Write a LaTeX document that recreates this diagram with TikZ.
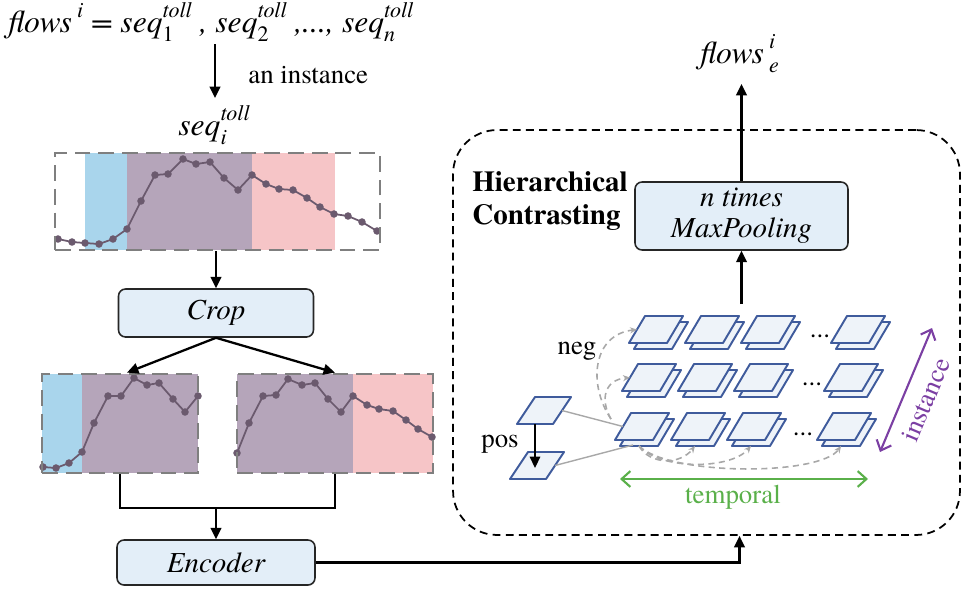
\documentclass[tikz,border=0pt]{standalone}
\usepackage{fontspec}
\setmainfont{texgyretermes}[Extension=.otf, UprightFont=*-regular, BoldFont=*-bold, ItalicFont=*-italic, BoldItalicFont=*-bolditalic]
\usetikzlibrary{arrows.meta,calc}
\definecolor{boxblue}{HTML}{E3EEF8}
\definecolor{chblue}{HTML}{A9D5EC}
\definecolor{chpurple}{HTML}{B5A5BA}
\definecolor{chpink}{HTML}{F6C5C7}
\definecolor{linec}{HTML}{6B5A6E}
\definecolor{cellfill}{HTML}{EEF3F9}
\definecolor{cellline}{HTML}{3F5B9C}
\definecolor{tgreen}{HTML}{5AB04A}
\definecolor{ipurple}{HTML}{7B3FA3}
\definecolor{neggray}{HTML}{A8A8A8}
\definecolor{framegray}{HTML}{7F7F7F}

% superscript #1 over subscript #2
\newcommand{\sps}[2]{\mbox{\fontsize{12.5}{13}\selectfont\rlap{\raisebox{-5.5pt}{#2}}\raisebox{8pt}{#1}}}

\newcommand{\hcell}[3]{%
  \filldraw[cellst] (#2+5,#3+6) -- ++(38,0) -- ++(-16,27) -- ++(-38,0) -- cycle;
  \filldraw[cellst] (#2,#3) -- ++(38,0) -- ++(-16,27) -- ++(-38,0) -- cycle;
  \coordinate (#1) at (#2,#3);
  \coordinate (#1-l) at (#2-8,#3+13.5);
  \coordinate (#1-b) at (#2+8,#3+33);
}
\newcommand{\pcell}[3]{%
  \filldraw[cellst] (#2,#3) -- ++(36,0) -- ++(-18,27) -- ++(-36,0) -- cycle;
  \coordinate (#1-r) at (#2+27,#3+13.5);
  \coordinate (#1-b) at (#2,#3+27);
}

\begin{document}
\begin{tikzpicture}[x=0.02cm,y=-0.02cm,
  arr/.style={-{Triangle[length=6.5pt,width=6pt]}, line width=1.3pt},
  conn/.style={line width=1.3pt},
  box/.style={draw=black!85, fill=boxblue, rounded corners=4pt, line width=0.9pt,
    font=\itshape\fontsize{16.5}{19}\selectfont, align=center, inner sep=0pt},
  chartframe/.style={draw=framegray, line width=1.6pt, dash pattern=on 9pt off 4.5pt, inner sep=0pt},
  series/.style={linec, line width=1pt, mark=*, mark size=1.6pt, mark options={fill=linec, draw=linec}},
  cellst/.style={draw=cellline, fill=cellfill, line width=1.1pt, line join=round},
  negst/.style={neggray, line width=0.9pt, dash pattern=on 3.5pt off 2.5pt, -{Stealth[length=4pt,width=3.5pt]}},
  posl/.style={neggray, line width=0.8pt},
  lbl/.style={font=\fontsize{15.3}{18}\selectfont, inner sep=0pt},
  mathlbl/.style={font=\itshape\fontsize{18}{21}\selectfont, inner sep=0pt},
  biarr/.style={{Straight Barb[length=5pt,width=9pt]}-{Straight Barb[length=5pt,width=9pt]}, line width=1.2pt},
]
\useasboundingbox (0,0) rectangle (963,589);

% ---------- top formula ----------
\node[mathlbl, anchor=base west] (fl) at (8,32)
  {flows\hspace{3pt}\sps{i}{} = seq\sps{toll}{\upshape 1} , seq\sps{toll}{\upshape 2} ,..., seq\sps{toll}{n}};
\coordinate (a1s) at (215,44);
\coordinate (a1e) at (215,98);
\draw[arr] (a1s) -- (a1e);
\node[lbl, anchor=base west] (inst) at (248,83) {an instance};
\node[mathlbl, anchor=base west] (seqi) at (178,135) {seq\sps{toll}{i}};

% ---------- top chart ----------
\fill[chblue] (85,153) rectangle (127,250);
\fill[chpurple] (127,153) rectangle (252,250);
\fill[chpink] (252,153) rectangle (335,250);
\draw[series] plot coordinates {(58,239) (72,242) (85,243) (99,244) (113,239) (127,229) (141,201) (155,175) (168,174) (183,159) (196,164) (210,162) (224,178) (238,190) (252,175) (266,184) (279,189) (293,190) (307,198) (320,207) (334,214) (348,216) (362,222) (377,231)};
\node[chartframe, minimum width=6.5cm, minimum height=1.94cm] (ch0) at (217.5,201.5) {};

% ---------- crop ----------
\node[box, minimum width=3.9cm, minimum height=0.96cm] (crop) at (216,313) {Crop};
\draw[arr] (crop.north |- ch0.south) -- (crop.north);

% ---------- left chart ----------
\fill[chblue] (42,374) rectangle (82,473);
\fill[chpurple] (82,374) rectangle (198,473);
\draw[series] plot coordinates {(43,467) (56,468) (69,463) (82,452) (94,423) (108,396) (121,396) (134,378) (147,385) (159,383) (173,399) (185,412) (198,396)};
\node[chartframe, minimum width=3.12cm, minimum height=1.98cm] (chL) at (120,423.5) {};

% ---------- right chart ----------
\fill[chpurple] (237,374) rectangle (353,473);
\fill[chpink] (353,374) rectangle (433,473);
\draw[series] plot coordinates {(237,453) (249,423) (263,396) (276,395) (288,379) (302,385) (315,383) (328,399) (341,412) (353,396) (367,405) (379,409) (393,411) (406,420) (418,429) (432,437)};
\node[chartframe, minimum width=3.92cm, minimum height=1.98cm] (chR) at (335,423.5) {};

\draw[arr] (crop.south) -- ($(chL.north)+(7,0)$);
\draw[arr] (crop.south) -- (chR.north);

% ---------- encoder ----------
\node[box, minimum width=3.96cm, minimum height=0.9cm] (enc) at (216,562.5) {Encoder};
\coordinate (jn) at (216,508);
\draw[conn] (chL.south) |- (jn) -| (chR.south);
\draw[arr] (jn) -- (enc.north);

% ---------- hierarchical contrasting container ----------
\node[draw, line width=1pt, dash pattern=on 4.5pt off 3pt, rounded corners=25pt,
      minimum width=10.14cm, minimum height=8.1cm, inner sep=0pt] (hc) at (706.5,332.5) {};
\draw[arr] (enc.east) -| ($(hc.south)+(33,0)$);

\node[anchor=west, align=left, inner sep=0pt, font=\bfseries\fontsize{16.5}{19}\selectfont] (hct) at (472,201)
  {Hierarchical\\Contrasting};

\node[box, minimum width=4.26cm, minimum height=1.36cm, font=\itshape\fontsize{16.5}{17.6}\selectfont] (mp) at (741.5,216) {n times\\MaxPooling};
\node[mathlbl, anchor=base west] (fe) at (700,63) {flows\hspace{3pt}\sps{i}{e}};
\coordinate (feend) at (741.5,84);
\draw[arr] (mp.north) -- (feend);
\coordinate (gtop) at (741.5,304);
\draw[arr] (gtop) -- (mp.south);

% ---------- grid of representations ----------
\foreach \r/\yy/\xo in {1/316/645, 2/364/638, 3/413/631} {
  \foreach \c/\dx in {1/0, 2/56, 3/112, 4/202} {
    \hcell{r\r c\c}{\xo+\dx}{\yy}
  }
}
\node[lbl, anchor=base] (d1) at (820,337) {...};
\node[lbl, anchor=base] (d2) at (812,385) {...};
\node[lbl, anchor=base] (d3) at (803,435) {...};

% pos cells
\pcell{pA}{535}{397}
\pcell{pB}{528}{452}
\coordinate (posend) at (535,468);
\draw[arr, line width=0.9pt] (pA-b) -- (posend);
\node[lbl, anchor=base] (pos) at (500,447) {pos};
\node[lbl, anchor=base] (neg) at (577,354) {neg};

\draw[posl] (pA-r) -- (r3c1-l);
\draw[posl] (pB-r) -- ($(r3c1-b)+(-6,-1)$);

% negative dashed arcs
\coordinate (negs) at (611,419);
\draw[negst] (negs) .. controls (588,385) and (592,335) .. (r1c1-l);
\draw[negst] (negs) .. controls (600,400) and (604,380) .. (r2c1-l);
\draw[negst] (r3c1-b) .. controls (650,465) and (680,465) .. (r3c2-b);
\draw[negst] (r3c1-b) .. controls (660,470) and (730,470) .. (r3c3-b);
\draw[negst] (r3c1-b) .. controls (670,476) and (820,476) .. (r3c4-b);

% temporal / instance axes
\coordinate (tl) at (620,479);
\coordinate (tr) at (868,479);
\draw[biarr, tgreen] (tl) -- (tr);
\node[lbl, text=tgreen, anchor=base] (temp) at (733,503) {temporal};
\coordinate (il) at (880,452);
\coordinate (ir) at (932,328);
\draw[biarr, ipurple] (il) -- (ir);
\node[lbl, text=ipurple, rotate=67] (instl) at (926,400) {instance};
\end{tikzpicture}
\end{document}
